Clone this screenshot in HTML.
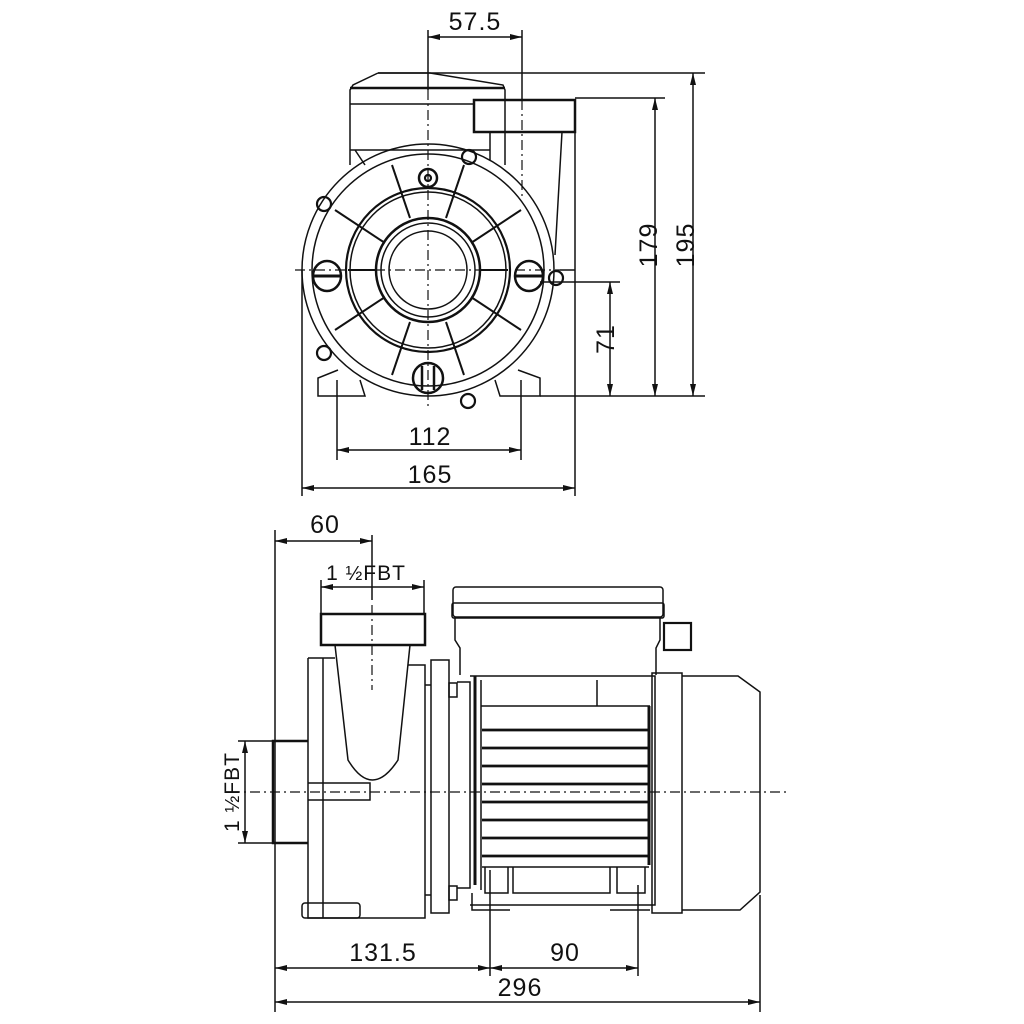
<!DOCTYPE html>
<html><head><meta charset="utf-8"><style>
html,body{margin:0;padding:0;background:#fff}
svg{display:block}
text{font-family:"Liberation Sans",sans-serif;fill:#111}
</style></head><body>
<svg width="1024" height="1024" viewBox="0 0 1024 1024" xmlns="http://www.w3.org/2000/svg">
<defs>
<marker id="a" viewBox="0 0 12 6" refX="12" refY="3" markerWidth="12" markerHeight="6" orient="auto-start-reverse" markerUnits="userSpaceOnUse"><path d="M0,0 L12,3 L0,6 Z" fill="#111"/></marker>
</defs>
<g fill="none" stroke="#111" stroke-width="1.5">
<line x1="428" y1="30" x2="428" y2="90"/>
<line x1="522" y1="30" x2="522" y2="100"/>
<line x1="378" y1="73" x2="705" y2="73"/>
<line x1="575" y1="98" x2="665" y2="98"/>
<line x1="540" y1="282" x2="620" y2="282"/>
<line x1="540" y1="396" x2="705" y2="396"/>
<line x1="302" y1="270" x2="302" y2="496"/>
<line x1="575" y1="130" x2="575" y2="496"/>
<line x1="337" y1="380" x2="337" y2="460"/>
<line x1="521" y1="380" x2="521" y2="460"/>
<line x1="428" y1="37" x2="522" y2="37" marker-start="url(#a)" marker-end="url(#a)"/>
<line x1="693" y1="73" x2="693" y2="396" marker-start="url(#a)" marker-end="url(#a)"/>
<line x1="655" y1="98" x2="655" y2="396" marker-start="url(#a)" marker-end="url(#a)"/>
<line x1="610" y1="282" x2="610" y2="396" marker-start="url(#a)" marker-end="url(#a)"/>
<line x1="337" y1="450" x2="521" y2="450" marker-start="url(#a)" marker-end="url(#a)"/>
<line x1="302" y1="488" x2="575" y2="488" marker-start="url(#a)" marker-end="url(#a)"/>
<path d="M378,73 L430,73 L503,85 L505,90 L505,165 M378,73 L353,85 L350,90 L350,165"/>
<line x1="350" y1="88" x2="505" y2="88" stroke-width="2.5"/>
<line x1="350" y1="104" x2="475" y2="104"/>
<path d="M350,150 L490,150 M355,150 L365,165"/>
<rect x="474" y="100" width="101" height="32" stroke-width="2.5"/>
<path d="M490,132 L490,160 M562,132 L555,255"/>
<path d="M338,370 L318,378 L318,396 L365,396 L360,380"/>
<path d="M518,370 L540,378 L540,396 L500,396 L495,380"/>
<circle cx="428" cy="270" r="126"/>
<circle cx="428" cy="270" r="116"/>
<circle cx="428" cy="270" r="82" stroke-width="2.2"/>
<circle cx="428" cy="270" r="78"/>
<circle cx="428" cy="270" r="52" stroke-width="2.5"/>
<circle cx="428" cy="270" r="47"/>
<circle cx="428" cy="270" r="39"/>
<g stroke-width="2">
<line x1="392" y1="165" x2="410" y2="218"/><line x1="464" y1="165" x2="446" y2="218"/>
<line x1="392" y1="375" x2="410" y2="322"/><line x1="464" y1="375" x2="446" y2="322"/>
<line x1="335" y1="210" x2="385" y2="243"/><line x1="521" y1="210" x2="471" y2="243"/>
<line x1="335" y1="330" x2="385" y2="297"/><line x1="521" y1="330" x2="471" y2="297"/>
<line x1="348" y1="270" x2="376" y2="270"/><line x1="508" y1="270" x2="480" y2="270"/>
</g>
<g stroke-width="2.2">
<circle cx="469" cy="157" r="7"/><circle cx="324" cy="204" r="7"/><circle cx="556" cy="278" r="7"/>
<circle cx="324" cy="353" r="7"/><circle cx="468" cy="401" r="7"/>
<circle cx="428" cy="178" r="9" stroke-width="2.5"/><circle cx="428" cy="178" r="3"/>
<ellipse cx="327" cy="276" rx="14" ry="15" stroke-width="2.5"/><line x1="313" y1="276" x2="341" y2="276" stroke-width="3"/>
<ellipse cx="529" cy="276" rx="14" ry="15" stroke-width="2.5"/><line x1="515" y1="276" x2="543" y2="276" stroke-width="3"/>
<ellipse cx="428" cy="378" rx="15" ry="15" stroke-width="2.5"/><line x1="422" y1="366" x2="422" y2="390" stroke-width="2.5"/><line x1="434" y1="366" x2="434" y2="390" stroke-width="2.5"/>
</g>
<g stroke-width="1.2" stroke-dasharray="10,4,2,4">
<line x1="428" y1="90" x2="428" y2="410"/>
<line x1="522" y1="100" x2="522" y2="200"/>
<line x1="295" y1="270" x2="560" y2="270"/>
</g>
<line x1="560" y1="270" x2="575" y2="270"/>

<line x1="275" y1="530" x2="275" y2="1012"/>
<line x1="372" y1="535" x2="372" y2="600"/>
<line x1="321" y1="580" x2="321" y2="614"/>
<line x1="424" y1="580" x2="424" y2="614"/>
<line x1="238" y1="741" x2="275" y2="741"/>
<line x1="238" y1="843" x2="275" y2="843"/>
<line x1="490" y1="870" x2="490" y2="976"/>
<line x1="638" y1="885" x2="638" y2="976"/>
<line x1="760" y1="895" x2="760" y2="1012"/>
<line x1="275" y1="541" x2="372" y2="541" marker-start="url(#a)" marker-end="url(#a)"/>
<line x1="321" y1="587" x2="424" y2="587" marker-start="url(#a)" marker-end="url(#a)"/>
<line x1="245" y1="741" x2="245" y2="843" marker-start="url(#a)" marker-end="url(#a)"/>
<line x1="275" y1="968" x2="490" y2="968" marker-start="url(#a)" marker-end="url(#a)"/>
<line x1="490" y1="968" x2="638" y2="968" marker-start="url(#a)" marker-end="url(#a)"/>
<line x1="275" y1="1002" x2="760" y2="1002" marker-start="url(#a)" marker-end="url(#a)"/>
<path d="M308,741 L273,741 L273,843 L308,843" stroke-width="2.5"/>
<path d="M308,658 L335,658 M308,658 L308,918 L425,918 L425,665 L408,665"/>
<line x1="323" y1="658" x2="323" y2="918"/>
<rect x="302" y="903" width="58" height="15" rx="3"/>
<path d="M308,783 L370,783 L370,800 L308,800"/>
<rect x="321" y="614" width="104" height="31" stroke-width="2.5"/>
<path d="M335,645 L348,760 Q372,800 398,760 L410,645"/>
<rect x="431" y="660" width="18" height="253"/>
<path d="M425,685 L431,685 M425,895 L431,895"/>
<rect x="449" y="683" width="8" height="14"/><rect x="449" y="886" width="8" height="14"/>
<path d="M457,682 L470,682 L470,888 L457,888"/>
<path d="M470,676 L655,676 L655,905 L470,905"/>
<line x1="475" y1="676" x2="475" y2="885" stroke-width="3"/>
<line x1="481" y1="680" x2="481" y2="890"/>
<line x1="481" y1="706" x2="650" y2="706"/>
<line x1="597" y1="680" x2="597" y2="706"/>
<g stroke-width="2.8">
<line x1="482" y1="730" x2="649" y2="730"/><line x1="482" y1="748" x2="649" y2="748"/>
<line x1="482" y1="766" x2="649" y2="766"/><line x1="482" y1="784" x2="649" y2="784"/>
<line x1="482" y1="802" x2="649" y2="802"/><line x1="482" y1="820" x2="649" y2="820"/>
<line x1="482" y1="838" x2="649" y2="838"/><line x1="482" y1="856" x2="649" y2="856"/>
</g>
<line x1="649" y1="706" x2="649" y2="865" stroke-width="3"/>
<line x1="482" y1="867" x2="649" y2="867"/>
<path d="M485,867 L485,893 L508,893 L508,867 M513,867 L513,893 L610,893 L610,867 M617,867 L617,893 L645,893 L645,867"/>
<path d="M472,893 L472,910 L510,910 M610,910 L650,910"/>
<rect x="453" y="587" width="210" height="30" rx="3"/>
<rect x="452" y="603" width="212" height="15" rx="2"/>
<path d="M455,618 L455,640 L460,648 L460,675 M660,618 L660,640 L656,648 L656,675"/>
<rect x="664" y="623" width="27" height="27" stroke-width="2.2"/>
<rect x="652" y="673" width="30" height="240"/>
<path d="M682,676 L738,676 L760,692 L760,892 L740,910 L682,910"/>
<line x1="230" y1="792" x2="790" y2="792" stroke-width="1.2" stroke-dasharray="10,4,2,4"/>
<line x1="372" y1="605" x2="372" y2="690" stroke-width="1.2" stroke-dasharray="10,4,2,4"/>
</g>
<g font-size="25" letter-spacing="1">
<text x="475" y="30" text-anchor="middle">57.5</text>
<text x="430" y="445" text-anchor="middle">112</text>
<text x="430" y="483" text-anchor="middle">165</text>
<text x="606" y="339" text-anchor="middle" transform="rotate(-90 606 339)" dy="8">71</text>
<text x="649" y="245" text-anchor="middle" transform="rotate(-90 649 245)" dy="8">179</text>
<text x="686" y="245" text-anchor="middle" transform="rotate(-90 686 245)" dy="8">195</text>
<text x="325" y="533" text-anchor="middle">60</text>
<text x="383" y="961" text-anchor="middle">131.5</text>
<text x="565" y="961" text-anchor="middle">90</text>
<text x="520" y="996" text-anchor="middle">296</text>
</g>
<text x="366" y="580" font-size="21" text-anchor="middle" letter-spacing="1">1 <tspan font-size="20">½</tspan>FBT</text>
<text x="232" y="792" font-size="21" text-anchor="middle" letter-spacing="1" transform="rotate(-90 232 792)" dy="7">1 <tspan font-size="20">½</tspan>FBT</text>
</svg>
</body></html>
